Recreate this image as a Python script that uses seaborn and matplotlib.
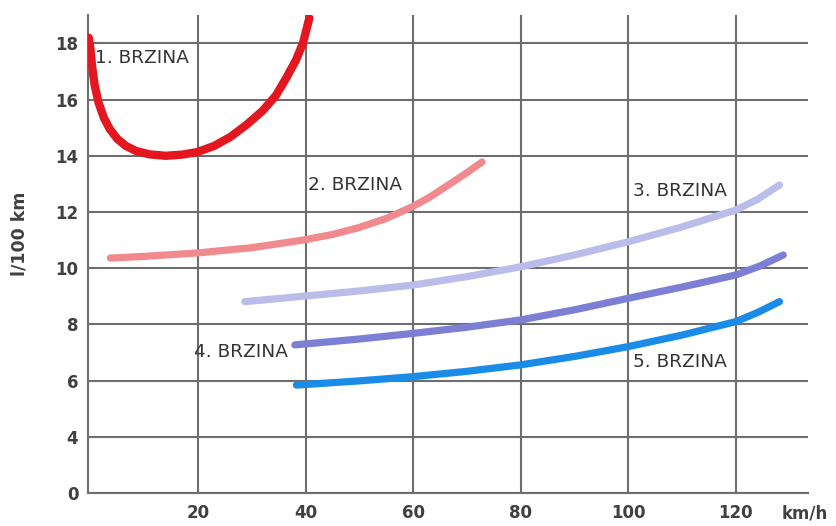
import matplotlib
matplotlib.use("Agg")
import matplotlib.pyplot as plt
import seaborn as sns
import pandas as pd

# ---- data (speed km/h, consumption l/100 km) ----
g1_x = [-0.3, 0.0, 0.3, 0.8, 1.5, 2.5, 3.6, 5.0, 6.6, 8.5, 11.0, 14.0, 17.0, 19.8, 23.0, 26.0, 29.0, 32.0, 34.5, 36.5, 38.2, 39.5, 40.7]
g1_y = [18.2, 17.8, 17.2, 16.5, 15.9, 15.35, 14.95, 14.6, 14.35, 14.17, 14.05, 14.0, 14.04, 14.13, 14.35, 14.67, 15.1, 15.6, 16.15, 16.8, 17.4, 18.0, 18.9]

g2_x = [3.7, 10.0, 19.8, 30.0, 39.5, 45.0, 50.0, 55.0, 60.0, 63.0, 66.7, 70.0, 72.8]
g2_y = [10.36, 10.42, 10.54, 10.73, 11.0, 11.2, 11.45, 11.77, 12.2, 12.52, 12.98, 13.4, 13.78]

g3_x = [28.7, 40.0, 50.0, 60.0, 70.0, 80.0, 90.0, 100.0, 110.0, 120.0, 124.0, 128.1]
g3_y = [8.81, 9.01, 9.19, 9.40, 9.70, 10.05, 10.47, 10.94, 11.47, 12.07, 12.45, 12.96]

g4_x = [38.0, 50.0, 60.0, 70.0, 80.0, 90.0, 100.0, 110.0, 120.0, 124.5, 128.8]
g4_y = [7.27, 7.48, 7.68, 7.90, 8.16, 8.52, 8.93, 9.33, 9.76, 10.08, 10.47]

g5_x = [38.3, 50.0, 60.0, 70.0, 80.0, 90.0, 100.0, 110.0, 120.0, 124.0, 128.1]
g5_y = [5.84, 5.99, 6.14, 6.33, 6.56, 6.86, 7.21, 7.62, 8.10, 8.42, 8.81]

labels = ["1. BRZINA", "2. BRZINA", "3. BRZINA", "4. BRZINA", "5. BRZINA"]
label_x = [0.8, 40.4, 100.8, 19.3, 100.8]
label_y = [17.48, 12.96, 12.75, 7.02, 6.67]

x_ticks = [20, 40, 60, 80, 100, 120]
y_ticks = [2, 4, 6, 8, 10, 12, 14, 16, 18]
y_tick_labels = ["0", "4", "6", "8", "10", "12", "14", "16", "18"]

colors = ["#e4161f", "#f08a8f", "#babdea", "#7c7fd3", "#1a8ce8"]
widths = [6.0, 5.2, 5.2, 5.2, 5.2]

frames = []
for lab, xs, ys in zip(labels, [g1_x, g2_x, g3_x, g4_x, g5_x], [g1_y, g2_y, g3_y, g4_y, g5_y]):
    frames.append(pd.DataFrame({"speed": xs, "cons": ys, "gear": lab}))
df = pd.concat(frames, ignore_index=True)

sns.set_style("white")
plt.rcParams["font.family"] = ["DejaVu Sans"]

fig = plt.figure(figsize=(8.36, 5.26), dpi=100)
ax = fig.add_axes([88 / 836, 1 - 493 / 526, (808 - 88) / 836, (493 - 15) / 526])

ax.set_xlim(-0.45, 133.4)
ax.set_ylim(2, 19.01)
ax.set_xticks(x_ticks)
ax.set_yticks(y_ticks)
ax.set_yticklabels(y_tick_labels)
ax.grid(True, color="#6e6e6e", linewidth=1.5)
ax.set_axisbelow(True)

for lab, col, lw in zip(labels, colors, widths):
    sub = df[df["gear"] == lab]
    sns.lineplot(data=sub, x="speed", y="cons", ax=ax, color=col, linewidth=lw,
                 sort=False, estimator=None, legend=False,
                 solid_capstyle="round", solid_joinstyle="round", zorder=3)

for lab, lx, ly in zip(labels, label_x, label_y):
    ax.text(lx, ly, lab, fontsize=13.3, color="#333333", ha="left", va="center", zorder=4)

for side in ["top", "right"]:
    ax.spines[side].set_visible(False)
for side in ["left", "bottom"]:
    ax.spines[side].set_color("#6e6e6e")
    ax.spines[side].set_linewidth(1.5)

ax.tick_params(axis="both", length=0, labelsize=12, labelcolor="#404040")
ax.tick_params(axis="y", pad=7)
ax.tick_params(axis="x", pad=8)
for t in ax.get_xticklabels() + ax.get_yticklabels():
    t.set_fontweight("bold")

ax.set_xlabel("")
ax.set_ylabel("")
fig.text(805 / 836, 1 - 513 / 526, "km/h", fontsize=12, fontweight="bold",
         color="#404040", ha="center", va="center")
fig.text(20 / 836, 1 - 234 / 526, "l/100 km", fontsize=12.5, fontweight="bold",
         color="#404040", ha="center", va="center", rotation=90)

fig.savefig("out.png", dpi=100, facecolor="white")
